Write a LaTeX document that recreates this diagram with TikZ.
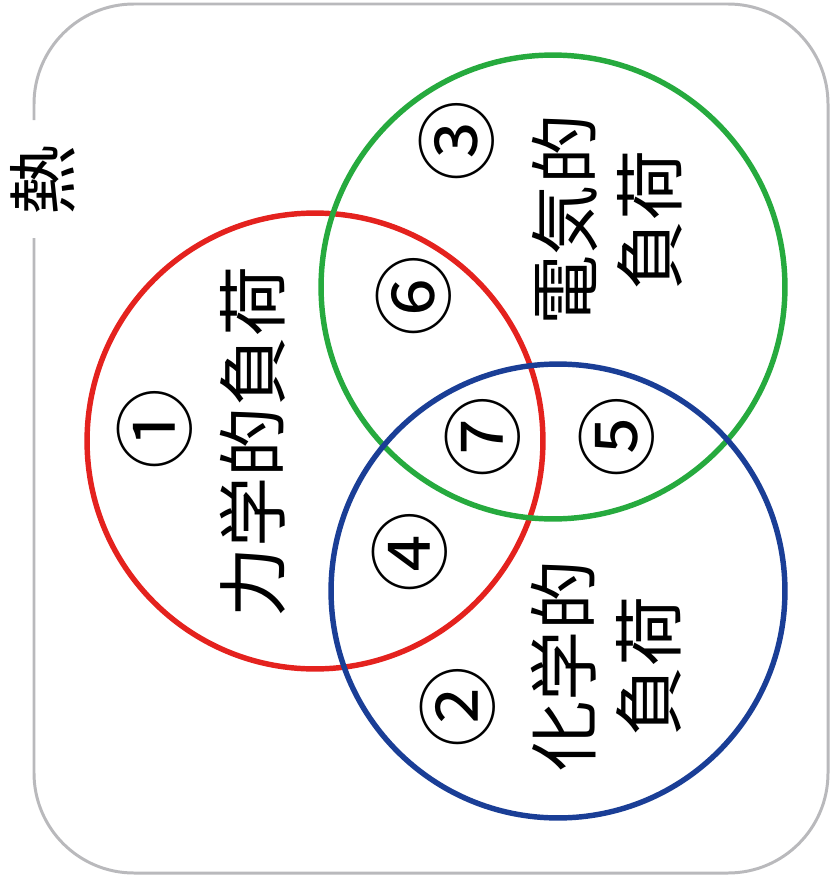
\documentclass[tikz,border=0pt]{standalone}
\usepackage{fontspec}
\newfontfamily\jpfont{Noto Sans CJK JP}
\usepackage{tikz}
\usetikzlibrary{positioning}
\definecolor{mechred}{RGB}{228,34,30}
\definecolor{elecgreen}{RGB}{38,170,62}
\definecolor{chemblue}{RGB}{26,62,150}
\definecolor{framegray}{RGB}{185,185,188}
\tikzset{
    loadring/.style={
        draw,
        circle,
        line width=3.1pt,
        inner sep=0pt
    },
    loadlbl/.style={
        rotate=90,
        align=center,
        inner sep=0pt,
        font=\jpfont\fontsize{40}{48.4}\selectfont
    },
    numlbl/.style={
        rotate=90,
        inner sep=0pt,
        font=\jpfont\fontsize{46}{46}\selectfont
    },
    frame/.style={
        draw=framegray,
        line width=1.7pt,
        rounded corners=2cm
    }
}

\begin{document}
\begin{tikzpicture}[x=0.02cm,y=-0.02cm]
\useasboundingbox (0,0) rectangle (831,892);

% outer frame, open where the heat label sits
\node[loadlbl] (heat) at (43,180) {熱};
\draw[frame] (34,238) -- (34,873) -- (828,873) -- (828,4) -- (34,4) -- (34,120);

% the three loads
\node[loadring, draw=mechred, minimum size=9.12cm] (mech) at (315,441) {};
\node[loadring, draw=elecgreen, minimum size=9.28cm] (elec) at (553,287) {};
\node[loadring, draw=chemblue, minimum size=9.08cm] (chem) at (558,591) {};

\node[loadlbl] (mechtxt) at (253,442) {力学的負荷};
\node[loadlbl] (electxt) at (607,220) {電気的\\負荷};
\node[loadlbl] (chemtxt) at (606,666) {化学的\\負荷};

% region numbers
\node[numlbl] (n1) at (155,429) {①};
\node[numlbl] (n2) at (458,707) {②};
\node[numlbl] (n3) at (457,141) {③};
\node[numlbl] (n4) at (410,552) {④};
\node[numlbl] (n5) at (617,437) {⑤};
\node[numlbl] (n6) at (414,296) {⑥};
\node[numlbl] (n7) at (483,437) {⑦};

\end{tikzpicture}
\end{document}
